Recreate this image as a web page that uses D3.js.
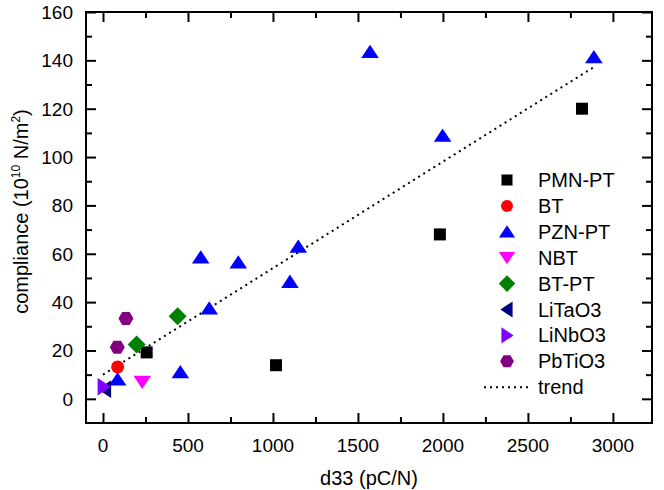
<!DOCTYPE html>
<html>
<head>
<meta charset="utf-8">
<script src="https://cdn.jsdelivr.net/npm/d3@7"></script>
<style>
  body { margin: 0; background: #fff; }
  text { font-family: "Liberation Sans", Arial, sans-serif; }
</style>
</head>
<body>
<div id="chart"></div>
<script>
// series: [d33, compliance]
const pmnPT = [[257, 19.2], [1018, 13.9], [1982, 68], [2818, 120]];
const bt = [[86, 13.2]];
const pznPT = [[86, 8], [455, 11], [575, 58.5], [625, 37.4], [796, 56.4], [1100, 48.4], [1149, 62.9], [1571, 143.5], [1998, 108.8], [2888, 141.3]];
const nbt = [[231, 7]];
const btPT = [[198, 22.5], [439, 34.2]];
const liTaO3 = [[12, 4]];
const liNbO3 = [[4, 5]];
const pbTiO3 = [[84, 21.3], [135, 33.2]];
const trend = [[0, 10], [2890, 137.3]];

const xTicks = [0, 500, 1000, 1500, 2000, 2500, 3000];
const yTicks = [0, 20, 40, 60, 80, 100, 120, 140, 160];

const width = 664, height = 490;
const plotL = 86, plotR = 652, plotT = 12, plotB = 423;

const x = d3.scaleLinear().domain([-100, 3230]).range([plotL, plotR]);
const y = d3.scaleLinear().domain([-10, 160]).range([plotB, plotT]);

const svg = d3.select("#chart").append("svg")
    .attr("width", width).attr("height", height);

// custom marker shapes
const shapes = {
    square: (s) => `M${-s/2},${-s/2}h${s}v${s}h${-s}Z`,
    circle: (s) => { const p = d3.path(); p.arc(0, 0, s/2, 0, 2 * Math.PI); return p.toString(); },
    up: (s) => `M0,${-s*0.45}L${s*0.55},${s*0.38}L${-s*0.55},${s*0.38}Z`,
    down: (s) => `M0,${s*0.45}L${s*0.55},${-s*0.38}L${-s*0.55},${-s*0.38}Z`,
    left: (s) => `M${-s*0.45},0L${s*0.38},${-s*0.55}L${s*0.38},${s*0.55}Z`,
    right: (s) => `M${s*0.45},0L${-s*0.38},${-s*0.55}L${-s*0.38},${s*0.55}Z`,
    diamond: (s) => `M0,${-s*0.6}L${s*0.6},0L0,${s*0.6}L${-s*0.6},0Z`,
    hexagon: (s) => {
        const r = s / 2;
        const pts = d3.range(6).map(i => {
            const a = Math.PI / 3 * i;
            return [r * Math.cos(a), r * Math.sin(a)];
        });
        return "M" + pts.map(p => p.join(",")).join("L") + "Z";
    }
};

const series = [
    { name: "PMN-PT", data: pmnPT, shape: "square", size: 12, color: "#000000" },
    { name: "BT", data: bt, shape: "circle", size: 13, color: "#ff0000" },
    { name: "PZN-PT", data: pznPT, shape: "up", size: 16, color: "#0000ff" },
    { name: "NBT", data: nbt, shape: "down", size: 16, color: "#ff00ff" },
    { name: "BT-PT", data: btPT, shape: "diamond", size: 15, color: "#008000" },
    { name: "LiTaO3", data: liTaO3, shape: "left", size: 16, color: "#000080" },
    { name: "LiNbO3", data: liNbO3, shape: "right", size: 16, color: "#8000ff" },
    { name: "PbTiO3", data: pbTiO3, shape: "hexagon", size: 15, color: "#800080" }
];

// trend line
svg.append("path")
    .datum(trend)
    .attr("fill", "none")
    .attr("stroke", "#000")
    .attr("stroke-width", 2)
    .attr("stroke-dasharray", "2,4")
    .attr("d", d3.line().x(d => x(d[0])).y(d => y(d[1])));

// markers
series.forEach(s => {
    svg.append("g").selectAll("path")
        .data(s.data)
        .join("path")
        .attr("transform", d => `translate(${x(d[0])},${y(d[1])})`)
        .attr("d", shapes[s.shape](s.size))
        .attr("fill", s.color);
});

// axes (ticks inside on all four sides)
const xMinor = d3.range(250, 3230, 500);
const yMinor = d3.range(10, 160, 20);
const tickStyle = g => {
    g.select(".domain").remove();
    g.selectAll("line").attr("stroke", "#000").attr("stroke-width", 2);
};

svg.append("g").attr("transform", `translate(0,${plotB})`)
    .call(d3.axisTop(x).tickValues(xTicks).tickSize(10).tickFormat(""))
    .call(tickStyle);
svg.append("g").attr("transform", `translate(0,${plotB})`)
    .call(d3.axisTop(x).tickValues(xMinor).tickSize(6).tickFormat(""))
    .call(tickStyle);
svg.append("g").attr("transform", `translate(0,${plotT})`)
    .call(d3.axisBottom(x).tickValues(xTicks).tickSize(10).tickFormat(""))
    .call(tickStyle);
svg.append("g").attr("transform", `translate(0,${plotT})`)
    .call(d3.axisBottom(x).tickValues(xMinor).tickSize(6).tickFormat(""))
    .call(tickStyle);
svg.append("g").attr("transform", `translate(${plotL},0)`)
    .call(d3.axisRight(y).tickValues(yTicks).tickSize(10).tickFormat(""))
    .call(tickStyle);
svg.append("g").attr("transform", `translate(${plotL},0)`)
    .call(d3.axisRight(y).tickValues(yMinor).tickSize(6).tickFormat(""))
    .call(tickStyle);
svg.append("g").attr("transform", `translate(${plotR},0)`)
    .call(d3.axisLeft(y).tickValues(yTicks).tickSize(10).tickFormat(""))
    .call(tickStyle);
svg.append("g").attr("transform", `translate(${plotR},0)`)
    .call(d3.axisLeft(y).tickValues(yMinor).tickSize(6).tickFormat(""))
    .call(tickStyle);

// frame
svg.append("rect")
    .attr("x", plotL).attr("y", plotT)
    .attr("width", plotR - plotL).attr("height", plotB - plotT)
    .attr("fill", "none").attr("stroke", "#000").attr("stroke-width", 2);

// tick labels
svg.append("g").selectAll("text")
    .data(xTicks).join("text")
    .attr("x", d => x(d)).attr("y", 452)
    .attr("text-anchor", "middle")
    .attr("font-size", 19)
    .text(d => d);
svg.append("g").selectAll("text")
    .data(yTicks).join("text")
    .attr("x", 73).attr("y", d => y(d) + 7)
    .attr("text-anchor", "end")
    .attr("font-size", 19)
    .text(d => d);

// axis titles
svg.append("text")
    .attr("x", (plotL + plotR) / 2).attr("y", 485)
    .attr("text-anchor", "middle")
    .attr("font-size", 20)
    .text("d33 (pC/N)");

const yTitle = svg.append("text")
    .attr("transform", `translate(28,${(plotT + plotB) / 2 - 6}) rotate(-90)`)
    .attr("text-anchor", "middle")
    .attr("font-size", 20);
yTitle.append("tspan").text("compliance (10");
yTitle.append("tspan").attr("font-size", 12).attr("dy", -8).text("10");
yTitle.append("tspan").attr("dy", 8).text(" N/m");
yTitle.append("tspan").attr("font-size", 12).attr("dy", -8).text("2");
yTitle.append("tspan").attr("dy", 8).text(")");

// legend
const legend = svg.append("g");
const rowY = i => 180 + i * 25.9;
series.forEach((s, i) => {
    legend.append("path")
        .attr("transform", `translate(507,${rowY(i)})`)
        .attr("d", shapes[s.shape](s.size * 0.92))
        .attr("fill", s.color);
    legend.append("text")
        .attr("x", 538).attr("y", rowY(i) + 7)
        .attr("font-size", 20)
        .text(s.name);
});
legend.append("line")
    .attr("x1", 484).attr("x2", 528)
    .attr("y1", rowY(8)).attr("y2", rowY(8))
    .attr("stroke", "#000").attr("stroke-width", 2)
    .attr("stroke-dasharray", "2,4");
legend.append("text")
    .attr("x", 538).attr("y", rowY(8) + 7)
    .attr("font-size", 20)
    .text("trend");
</script>
</body>
</html>
